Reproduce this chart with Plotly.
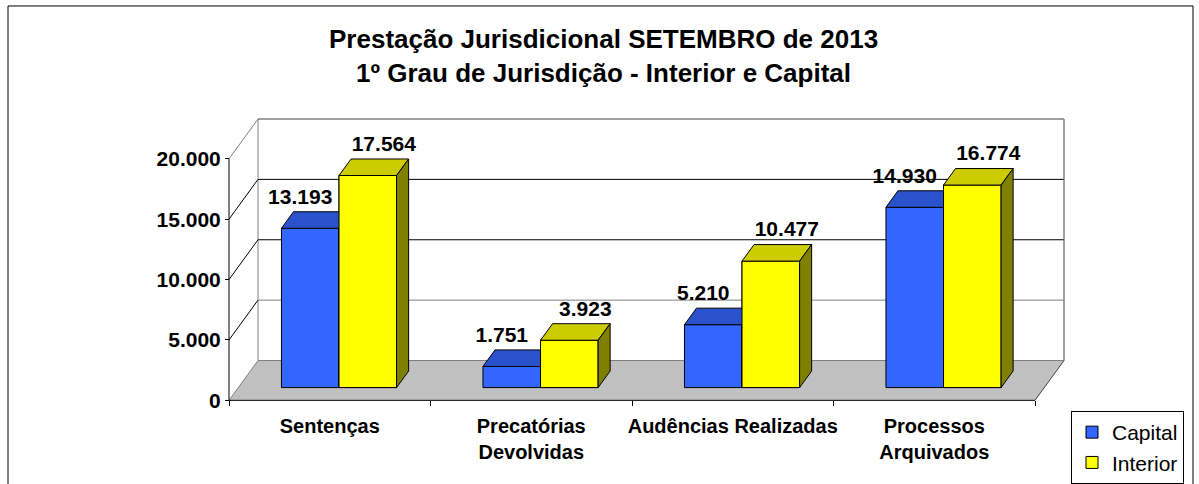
import plotly.graph_objects as go

# ---------------- data ----------------
categories = ["Sentenças", "Precatórias<br>Devolvidas", "Audências Realizadas", "Processos<br>Arquivados"]
capital = [13193, 1751, 5210, 14930]
interior = [17564, 3923, 10477, 16774]
series_names = ["Capital", "Interior"]
y_ticks = [0, 5000, 10000, 15000, 20000]
y_tick_labels = ["0", "5.000", "10.000", "15.000", "20.000"]
title_lines = ["Prestação Jurisdicional SETEMBRO de 2013", "1º Grau de Jurisdição - Interior e Capital"]

# ---------------- geometry / style ----------------
W, H = 1199, 484
X0_PX, Y0_PX = 229, 402          # pixel of the front origin
PX_CAT = 201.5                   # pixels per category
PX_VAL = 0.012125                # pixels per value unit
XR = [-X0_PX / PX_CAT, (W - X0_PX) / PX_CAT]
YR = [-(H - Y0_PX) / PX_VAL, Y0_PX / PX_VAL]
DX = 29 / PX_CAT                 # depth offset (category units)
DY = 40 / PX_VAL                 # depth offset (value units)
F0, F1 = 0.32, 0.735             # bar front/back depth fractions
BW = 1 / 3.5                     # bar width (gap 150%)
YMAX = y_ticks[-1]
N = len(categories)
FONT = "Liberation Sans, Arial, sans-serif"

front_col = ["#3366FF", "#FFFF00"]
top_col = ["#2952CC", "#CCCC00"]
side_col = ["#1A3380", "#808000"]
GRAY = "#808080"


def poly_path(pts):
    return "M " + " L ".join(f"{x},{y}" for x, y in pts) + " Z"


shapes = []
# left side wall
shapes.append(dict(type="path", xref="x", yref="y", layer="below",
                   path=poly_path([(0, 0), (DX, DY), (DX, YMAX + DY), (0, YMAX)]),
                   fillcolor="white", line=dict(width=0)))
# back wall
shapes.append(dict(type="rect", xref="x", yref="y", layer="below",
                   x0=DX, y0=DY, x1=N + DX, y1=YMAX + DY,
                   fillcolor="white", line=dict(color=GRAY, width=1)))
# floor
shapes.append(dict(type="path", xref="x", yref="y", layer="below",
                   path=poly_path([(0, 0), (N, 0), (N + DX, DY), (DX, DY)]),
                   fillcolor="#C0C0C0", line=dict(width=0)))


def seg(x0, y0, x1, y1, color, width=1):
    shapes.append(dict(type="line", xref="x", yref="y", layer="below",
                       x0=x0, y0=y0, x1=x1, y1=y1, line=dict(color=color, width=width)))


# grid lines on walls
for v in y_ticks[1:]:
    diag_c = GRAY if v == YMAX else "black"
    hor_c = "black" if v in (10000, 15000) else GRAY
    seg(0, v, DX, v + DY, diag_c)
    seg(DX, v + DY, N + DX, v + DY, hor_c)
# floor edges
seg(DX, DY, N + DX, DY, GRAY)
seg(0, 0, DX, DY, GRAY)
seg(N, 0, N + DX, DY, "#404040")
seg(N + DX, DY, N + DX, YMAX + DY, GRAY)
# front axes
seg(0, 0, 0, YMAX, "black")
seg(0, 0, N, 0, "black")

# figure border
shapes.append(dict(type="rect", xref="paper", yref="paper",
                   x0=8 / W, x1=1193 / W, y0=-0.05, y1=1 - 6 / H,
                   line=dict(color="black", width=1), fillcolor="rgba(0,0,0,0)"))

fig = go.Figure()

values = [capital, interior]
# front faces as bars (give the legend squares)
for s in range(2):
    xs = [c + 0.5 + (s - 0.5) * BW + F0 * DX for c in range(N)]
    fig.add_trace(go.Bar(x=xs, y=values[s], base=F0 * DY, width=BW, name=series_names[s],
                         marker=dict(color=front_col[s], line=dict(color="black", width=1)),
                         hoverinfo="skip"))


def face_trace(polys, color):
    xs, ys = [], []
    for p in polys:
        for (x, y) in p:
            xs.append(x)
            ys.append(y)
        xs.append(p[0][0]); ys.append(p[0][1])
        xs.append(None); ys.append(None)
    return go.Scatter(x=xs, y=ys, mode="lines", fill="toself", fillcolor=color,
                      line=dict(color="black", width=1), showlegend=False, hoverinfo="skip")


dd = (F1 - F0) * DX
dv = (F1 - F0) * DY
for s in range(2):
    fronts, tops, sides = [], [], []
    for c in range(N):
        v = values[s][c]
        xl = c + 0.5 - BW + s * BW + F0 * DX
        xr = xl + BW
        b = F0 * DY
        fronts.append([(xl, b), (xr, b), (xr, b + v), (xl, b + v)])
        tops.append([(xl, b + v), (xr, b + v), (xr + dd, b + v + dv), (xl + dd, b + v + dv)])
        sides.append([(xr, b), (xr, b + v), (xr + dd, b + v + dv), (xr + dd, b + dv)])
    if s == 1:
        fig.add_trace(face_trace(fronts, front_col[s]))
    fig.add_trace(face_trace(tops, top_col[s]))
    fig.add_trace(face_trace(sides, side_col[s]))

# value labels
lab_dx_px = [-10, 16]
lab_dy_px = 30
for s in range(2):
    xs = [c + 0.5 + (s - 0.5) * BW + F0 * DX + lab_dx_px[s] / PX_CAT for c in range(N)]
    ys = [v + F0 * DY + lab_dy_px / PX_VAL for v in values[s]]
    txt = [f"{v:,}".replace(",", ".") for v in values[s]]
    fig.add_trace(go.Scatter(x=xs, y=ys, xaxis="x2", mode="text", text=txt,
                             textposition="middle center",
                             textfont=dict(family=FONT, size=21, color="black", weight="bold"),
                             showlegend=False, hoverinfo="skip"))

fig.add_annotation(xref="paper", yref="paper", x=603 / W, y=1 - 56.5 / H,
                   xanchor="center", yanchor="middle", showarrow=False,
                   text="<br>".join(title_lines),
                   font=dict(family=FONT, size=26, color="black", weight="bold"))

fig.update_layout(
    width=W, height=H, autosize=False,
    margin=dict(l=0, r=0, t=0, b=0, pad=0),
    paper_bgcolor="white", plot_bgcolor="white",
    barmode="overlay", separators=",.",
    shapes=shapes,
    xaxis=dict(range=XR, domain=[0, 1], anchor="free", position=(H - Y0_PX) / H,
               tickmode="array", tickvals=[c + 0.5 for c in range(N)], ticktext=categories,
               ticks="", showline=False, showgrid=False, zeroline=False,
               ticklabelstandoff=12,
               tickfont=dict(family=FONT, size=20, color="black", weight="bold")),
    xaxis2=dict(range=XR, overlaying="x", anchor="free", position=(H - Y0_PX) / H,
                tickmode="array", tickvals=list(range(N + 1)), ticks="outside", ticklen=5,
                tickcolor="black", tickwidth=1, showticklabels=False,
                showline=False, showgrid=False, zeroline=False),
    yaxis=dict(range=YR, domain=[0, 1], anchor="free", position=X0_PX / W,
               tickmode="array", tickvals=y_ticks, ticktext=y_tick_labels,
               ticks="outside", ticklen=4, tickcolor="black", tickwidth=1,
               showline=False, showgrid=False, zeroline=False,
               tickfont=dict(family=FONT, size=21, color="black", weight="bold")),
    legend=dict(x=1071 / W, y=1 - 413 / H, xanchor="left", yanchor="top",
                bgcolor="white", bordercolor="black", borderwidth=1,
                font=dict(family=FONT, size=21, color="black"), traceorder="normal"),
    showlegend=True,
)

fig.write_html("out.html")
